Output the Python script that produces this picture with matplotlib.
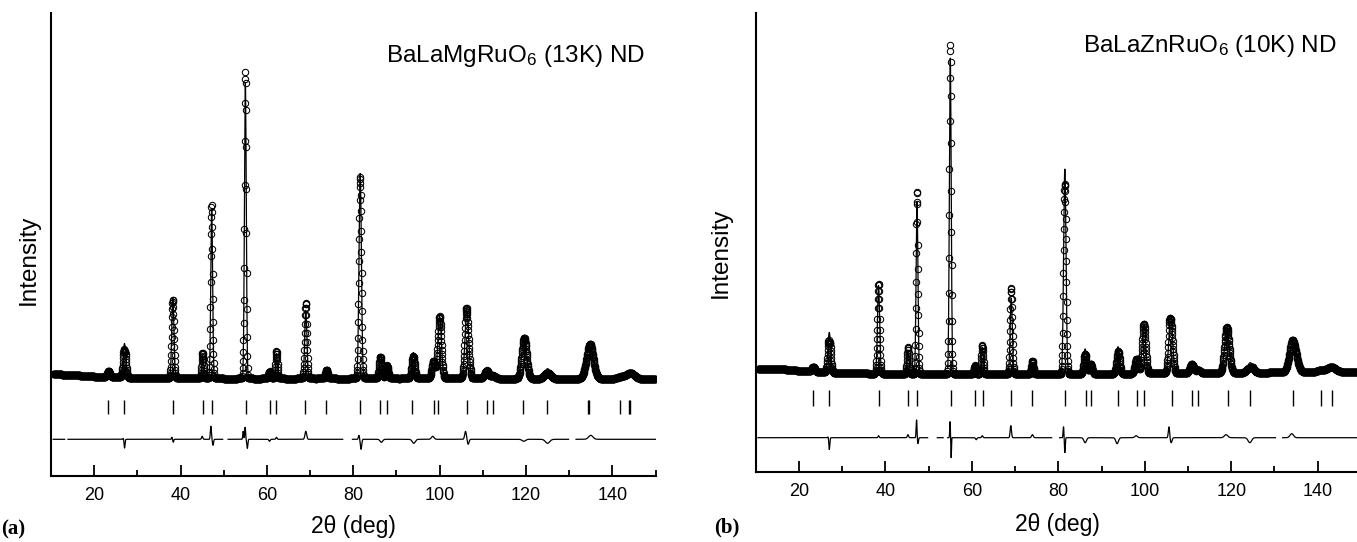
import numpy as np
import matplotlib
matplotlib.use("Agg")
import matplotlib.pyplot as plt
from matplotlib.ticker import MultipleLocator

plt.rcParams['font.family'] = ['Liberation Sans', 'DejaVu Sans']
plt.rcParams['mathtext.fontset'] = 'custom'
plt.rcParams['mathtext.rm'] = 'Liberation Sans'
plt.rcParams['mathtext.it'] = 'Liberation Sans:italic'

W, H = 1357, 542

# ---------------- Panel (a): BaLaMgRuO6, 13 K ----------------
a_peak_pos  = [23.3, 27.0, 38.2, 45.1, 47.2, 55.0, 60.6, 62.2, 69.0, 73.8, 81.6, 86.3, 87.8,
               93.9, 98.6, 100.0, 106.3, 110.9, 112.4, 119.6, 125.0, 134.8, 142.0, 144.2]
a_peak_h    = [6, 34, 80, 23, 170, 296, 9, 25, 68, 9, 205, 24, 13,
               26, 15, 62, 68, 8, 3, 43, 10, 31, 2, 6]
a_peak_fwhm = [0.75, 0.75, 0.6, 0.55, 0.5, 0.5, 0.55, 0.55, 0.6, 0.65, 0.65, 0.75, 0.75,
               0.85, 0.9, 0.95, 1.0, 1.1, 1.1, 1.3, 1.45, 1.9, 2.0, 2.2]
a_ticks = [23.2, 26.9, 38.3, 45.1, 47.3, 55.2, 60.6, 62.1, 68.9, 73.7, 81.6, 86.2, 87.8,
           93.7, 98.6, 99.7, 106.3, 110.9, 112.4, 119.4, 124.8, 134.3, 134.6, 141.7, 143.9, 144.1]
a_diff_pos = [26.8, 27.0, 38.0, 38.3, 45.0, 47.0, 47.5, 54.5, 54.95, 55.45, 60.6, 62.2, 69.0,
              81.3, 81.8, 86.5, 94.0, 98.4, 106.0, 106.6, 119.5, 125.0, 135.0]
a_diff_amp = [2, -9, 2, -3, 3, 13, -6, 8, 12, -9, -2, 2, 8,
              4, -10, -3, -4, 3, 8, -5, -2, -4, 4]
a_diff_w   = [0.1, 0.12, 0.1, 0.1, 0.15, 0.12, 0.12, 0.1, 0.1, 0.12, 0.15, 0.15, 0.2,
              0.12, 0.15, 0.3, 0.35, 0.3, 0.2, 0.2, 0.4, 0.5, 0.5]
a_bg_x = [10, 15, 20, 30, 50, 80, 110, 150]
a_bg_y = [102, 101, 99.5, 98, 97.5, 97.5, 97.5, 97]
a_gaps = [(13.2, 13.9), (49.8, 51.0), (77.6, 79.8), (129.9, 131.6)]

# ---------------- Panel (b): BaLaZnRuO6, 10 K ----------------
b_peak_pos  = [23.3, 27.0, 38.4, 45.2, 47.3, 55.0, 60.7, 62.4, 69.1, 74.0, 81.5, 86.2, 87.5,
               93.8, 98.1, 99.8, 106.0, 110.9, 112.4, 119.0, 124.4, 134.3, 140.8, 143.2]
b_peak_h    = [5, 40, 88, 24, 172, 316, 9, 27, 76, 10, 205, 25, 10,
               27, 13, 50, 58, 9, 3, 43, 10, 29, 2, 5]
b_peak_fwhm = [0.75, 0.75, 0.6, 0.55, 0.5, 0.5, 0.55, 0.55, 0.6, 0.65, 0.65, 0.75, 0.75,
               0.85, 0.9, 0.95, 1.0, 1.1, 1.1, 1.3, 1.45, 1.9, 2.0, 2.2]
b_ticks = [23.3, 27.0, 38.6, 45.3, 47.4, 55.1, 60.8, 62.5, 69.1, 74.0, 81.6, 86.3, 87.6,
           93.8, 98.1, 99.8, 106.2, 110.9, 112.4, 119.2, 124.4, 134.3, 140.8, 143.2]
b_diff_pos = [26.8, 27.0, 38.4, 45.2, 47.2, 47.5, 54.95, 55.2, 61.0, 62.4, 69.0, 74.0,
              81.2, 81.5, 86.2, 93.6, 98.0, 105.6, 106.1, 118.8, 124.3, 134.0]
b_diff_amp = [2, -12, 2, 3, 18, -6, 16, -20, -2, 2, 12, 3,
              11, -15, -5, -6, 2, 11, -5, 3, -5, 4]
b_diff_w   = [0.1, 0.12, 0.12, 0.15, 0.1, 0.12, 0.08, 0.07, 0.15, 0.15, 0.15, 0.2,
              0.1, 0.1, 0.3, 0.3, 0.3, 0.15, 0.2, 0.4, 0.4, 0.4]
b_bg_x = [10, 15, 20, 30, 50, 80, 110, 150]
b_bg_y = [103, 103, 101, 98.5, 97.5, 97.5, 98.5, 100]
b_gaps = [(49.8, 52.0), (53.4, 54.4), (78.5, 80.3), (130.3, 131.9)]

x_tick_labels = ['20', '40', '60', '80', '100', '120', '140']


def gauss_sum(x, pos, amp, fwhm_or_sigma, is_fwhm=True):
    y = np.zeros_like(x)
    for p, a, w in zip(pos, amp, fwhm_or_sigma):
        s = w / 2.3548 if is_fwhm else w
        y += a * np.exp(-0.5 * ((x - p) / s) ** 2)
    return y


def draw_panel(ax, pk_pos, pk_h, pk_w, ticks, d_pos, d_amp, d_w, bgx, bgy, gaps,
               ylim_top, tick_c, tick_half, diff_off):
    x = np.arange(10.5, 150.0001, 0.05)
    bg = np.interp(x, bgx, bgy)
    calc = bg + gauss_sum(x, pk_pos, pk_h, pk_w)
    diff = gauss_sum(x, d_pos, d_amp, d_w, is_fwhm=False)
    obs = calc + diff
    mask = np.zeros_like(x, dtype=bool)
    for g0, g1 in gaps:
        mask |= (x >= g0) & (x <= g1)
    calc_m = np.where(mask, np.nan, calc)
    diff_m = np.where(mask, np.nan, diff + diff_off)

    ax.plot(x, obs, 'o', mfc='none', mec='k', ms=4.6, mew=0.75, zorder=2)
    ax.plot(x, calc_m, '-', color='k', lw=0.9, zorder=3)
    ax.vlines(ticks, tick_c - tick_half, tick_c + tick_half, color='k', lw=1.0)
    ax.plot(x, diff_m, '-', color='k', lw=0.9)

    ax.set_xlim(10, 150)
    ax.set_ylim(0, ylim_top)
    for s in ['top', 'right']:
        ax.spines[s].set_visible(False)
    for s in ['left', 'bottom']:
        ax.spines[s].set_linewidth(1.5)
    ax.set_yticks([])
    ax.set_xticks([20, 40, 60, 80, 100, 120, 140])
    ax.set_xticklabels(x_tick_labels)
    ax.xaxis.set_minor_locator(MultipleLocator(10))
    ax.tick_params(axis='x', which='major', direction='in', length=8, width=1.3,
                   labelsize=13, pad=8)
    ax.tick_params(axis='x', which='minor', direction='in', length=4.5, width=1.3)
    ax.patch.set_alpha(0)


fig = plt.figure(figsize=(W / 100, H / 100), dpi=100)

axa = fig.add_axes([51.1 / W, (H - 476) / H, 604.4 / W, 463.3 / H])
draw_panel(axa, a_peak_pos, a_peak_h, a_peak_fwhm, a_ticks, a_diff_pos, a_diff_amp, a_diff_w,
           a_bg_x, a_bg_y, a_gaps, 463.3, 69, 7, 36.7)

axb = fig.add_axes([755.8 / W, (H - 471.7) / H, 605.1 / W, 459 / H])
draw_panel(axb, b_peak_pos, b_peak_h, b_peak_fwhm, b_ticks, b_diff_pos, b_diff_amp, b_diff_w,
           b_bg_x, b_bg_y, b_gaps, 459, 73.7, 8, 34)


def ftext(px, py, s, **kw):
    fig.text(px / W, 1 - py / H, s, **kw)


ftext(645, 61.7, r'BaLaMgRuO$_6$ (13K) ND', ha='right', va='baseline', fontsize=17.5)
ftext(1337, 51.7, r'BaLaZnRuO$_6$ (10K) ND', ha='right', va='baseline', fontsize=17.5)
ftext(29, 260, 'Intensity', rotation=90, ha='center', va='center', fontsize=17.5)
ftext(721, 253, 'Intensity', rotation=90, ha='center', va='center', fontsize=17.5)
ftext(353, 527, '2θ (deg)', ha='center', va='center', fontsize=16.5)
ftext(1057, 525, '2θ (deg)', ha='center', va='center', fontsize=16.5)
ftext(1, 529, '(a)', ha='left', va='center', fontsize=15,
      family=['Liberation Serif', 'DejaVu Serif'], fontweight='bold')
ftext(714, 527, '(b)', ha='left', va='center', fontsize=15,
      family=['Liberation Serif', 'DejaVu Serif'], fontweight='bold')

fig.savefig('out.png', dpi=100)
